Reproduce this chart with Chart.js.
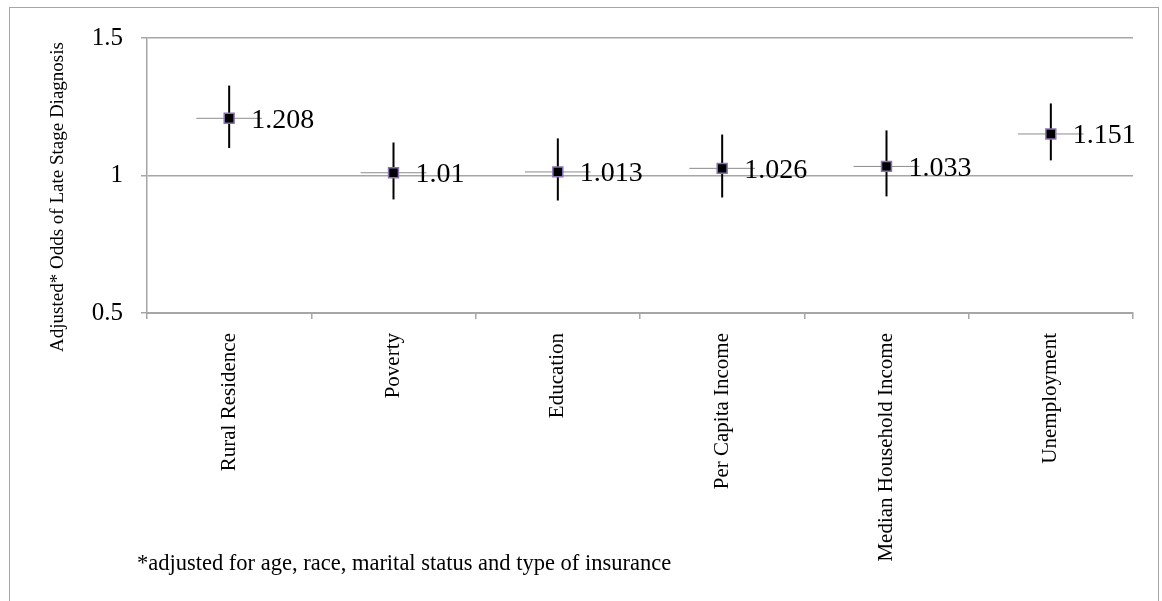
<!DOCTYPE html>
<html>
<head>
<meta charset="utf-8">
<script src="https://cdn.jsdelivr.net/npm/chart.js@4"></script>
<style>
  html, body { margin: 0; padding: 0; background: #fff; }
  #wrap { position: relative; width: 1162px; height: 601px; overflow: hidden; }
  #frame { position: absolute; left: 9px; top: 7px; width: 1150px; height: 640px; border: 1.5px solid #a6a6a6; box-sizing: border-box; }
  #note { position: absolute; left: 137px; top: 550px; font: 22.5px "Liberation Serif", serif; color: #000; white-space: nowrap; }
  canvas { position: absolute; left: 0; top: 0; }
</style>
</head>
<body>
<div id="wrap">
  <div id="frame"></div>
  <canvas id="myChart" width="1162" height="601"></canvas>
  <div id="note">*adjusted for age, race, marital status and type of insurance</div>
</div>
<script>
// valeurs
const categories = ['Rural Residence', 'Poverty', 'Education', 'Per Capita Income', 'Median Household Income', 'Unemployment'];
const oddsRatios = [1.208, 1.01, 1.013, 1.026, 1.033, 1.151];
const lowerCI = [1.100, 0.913, 0.909, 0.920, 0.924, 1.055];
const upperCI = [1.327, 1.120, 1.135, 1.149, 1.164, 1.262];
const yTicks = [0.5, 1, 1.5];
const yTitle = 'Adjusted* Odds of Late Stage Diagnosis';

const serif = '"Liberation Serif", serif';

// barres d'erreur + etiquettes de valeur
const errorBars = {
  id: 'errorBars',
  beforeDatasetsDraw(chart) {
    const { ctx, scales: { x, y } } = chart;
    const half = (x.getPixelForValue(1) - x.getPixelForValue(0)) * 0.2;
    ctx.save();
    oddsRatios.forEach((v, i) => {
      const px = x.getPixelForValue(i);
      const py = y.getPixelForValue(v);
      // trait horizontal gris
      ctx.strokeStyle = '#8c8c8c';
      ctx.lineWidth = 1;
      ctx.beginPath();
      ctx.moveTo(px - half, py);
      ctx.lineTo(px + half, py);
      ctx.stroke();
      // intervalle vertical
      ctx.strokeStyle = '#000';
      ctx.lineWidth = 2;
      ctx.beginPath();
      ctx.moveTo(px, y.getPixelForValue(upperCI[i]));
      ctx.lineTo(px, y.getPixelForValue(lowerCI[i]));
      ctx.stroke();
    });
    ctx.restore();
  },
  afterDatasetsDraw(chart) {
    const { ctx, scales: { x, y } } = chart;
    ctx.save();
    ctx.fillStyle = '#000';
    ctx.font = '28px ' + serif;
    ctx.textAlign = 'left';
    ctx.textBaseline = 'middle';
    oddsRatios.forEach((v, i) => {
      ctx.fillText(String(v), x.getPixelForValue(i) + 22, y.getPixelForValue(v) + 2);
    });
    // titre de l'axe y
    ctx.translate(58, 197);
    ctx.rotate(-Math.PI / 2);
    ctx.textAlign = 'center';
    ctx.font = '19px ' + serif;
    ctx.fillText(yTitle, 0, 0);
    ctx.restore();
  }
};

const ctx = document.getElementById('myChart').getContext('2d');
new Chart(ctx, {
  type: 'line',
  data: {
    labels: categories,
    datasets: [{
      data: oddsRatios,
      showLine: false,
      pointStyle: 'rect',
      pointRadius: 7,
      backgroundColor: '#000',
      borderColor: '#8a73b3',
      borderWidth: 1.5
    }]
  },
  options: {
    responsive: false,
    animation: false,
    events: [],
    layout: { padding: { top: 38, right: 29, left: 0, bottom: 0 } },
    plugins: { legend: { display: false }, tooltip: { enabled: false } },
    scales: {
      x: {
        offset: true,
        grid: { offset: true, drawOnChartArea: false, drawTicks: true, tickLength: 6, color: '#a6a6a6', lineWidth: 1.5 },
        border: { color: '#a6a6a6', width: 2 },
        ticks: { maxRotation: 90, minRotation: 90, padding: 14, color: '#000', font: { family: serif, size: 21 } },
        afterFit(scale) { scale.height = 288; }
      },
      y: {
        min: 0.5,
        max: 1.5,
        afterBuildTicks(scale) { scale.ticks = yTicks.map(v => ({ value: v })); },
        grid: { color: '#a6a6a6', lineWidth: 1.5, tickLength: 6 },
        border: { color: '#a6a6a6', width: 1.5 },
        ticks: { padding: 18, color: '#000', font: { family: serif, size: 25 }, callback: v => String(v) },
        afterFit(scale) { scale.width = 147; }
      }
    }
  },
  plugins: [errorBars]
});
</script>
</body>
</html>
